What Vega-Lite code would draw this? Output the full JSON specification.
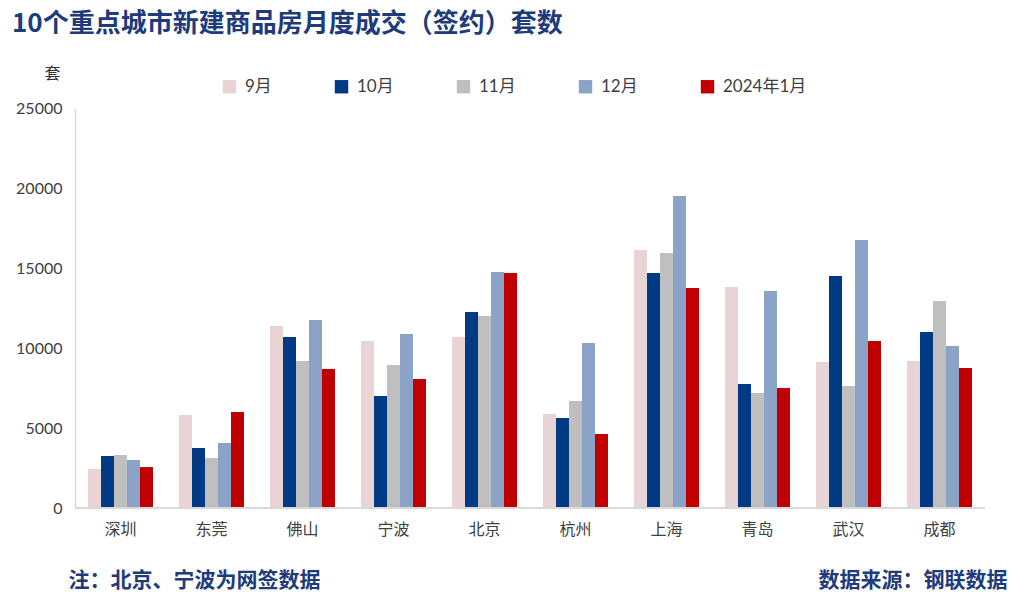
{
  "$schema": "https://vega.github.io/schema/vega-lite/v6.json",
  "width": 910,
  "height": 400,
  "autosize": {"type": "none"},
  "padding": {"left": 75, "top": 108, "right": 35, "bottom": 91},
  "background": "white",
  "title": {
    "text": "10个重点城市新建商品房月度成交（签约）套数",
    "anchor": "start",
    "frame": "group",
    "dx": -63,
    "offset": 28,
    "font": "Noto Sans CJK SC",
    "fontSize": 26,
    "fontWeight": "bold",
    "color": "#203b7c"
  },
  "config": {
    "view": {"stroke": null},
    "font": "Noto Sans CJK SC"
  },
  "data": {
    "values": [
      {"city": "深圳", "month": "9月", "value": 2440},
      {"city": "深圳", "month": "10月", "value": 3250},
      {"city": "深圳", "month": "11月", "value": 3310},
      {"city": "深圳", "month": "12月", "value": 3000},
      {"city": "深圳", "month": "2024年1月", "value": 2560},
      {"city": "东莞", "month": "9月", "value": 5810},
      {"city": "东莞", "month": "10月", "value": 3750},
      {"city": "东莞", "month": "11月", "value": 3120},
      {"city": "东莞", "month": "12月", "value": 4060},
      {"city": "东莞", "month": "2024年1月", "value": 6000},
      {"city": "佛山", "month": "9月", "value": 11375},
      {"city": "佛山", "month": "10月", "value": 10690},
      {"city": "佛山", "month": "11月", "value": 9190},
      {"city": "佛山", "month": "12月", "value": 11750},
      {"city": "佛山", "month": "2024年1月", "value": 8690},
      {"city": "宁波", "month": "9月", "value": 10440},
      {"city": "宁波", "month": "10月", "value": 7000},
      {"city": "宁波", "month": "11月", "value": 8940},
      {"city": "宁波", "month": "12月", "value": 10875},
      {"city": "宁波", "month": "2024年1月", "value": 8060},
      {"city": "北京", "month": "9月", "value": 10690},
      {"city": "北京", "month": "10月", "value": 12250},
      {"city": "北京", "month": "11月", "value": 12000},
      {"city": "北京", "month": "12月", "value": 14750},
      {"city": "北京", "month": "2024年1月", "value": 14690},
      {"city": "杭州", "month": "9月", "value": 5875},
      {"city": "杭州", "month": "10月", "value": 5625},
      {"city": "杭州", "month": "11月", "value": 6690},
      {"city": "杭州", "month": "12月", "value": 10310},
      {"city": "杭州", "month": "2024年1月", "value": 4625},
      {"city": "上海", "month": "9月", "value": 16125},
      {"city": "上海", "month": "10月", "value": 14690},
      {"city": "上海", "month": "11月", "value": 15940},
      {"city": "上海", "month": "12月", "value": 19500},
      {"city": "上海", "month": "2024年1月", "value": 13750},
      {"city": "青岛", "month": "9月", "value": 13810},
      {"city": "青岛", "month": "10月", "value": 7750},
      {"city": "青岛", "month": "11月", "value": 7190},
      {"city": "青岛", "month": "12月", "value": 13560},
      {"city": "青岛", "month": "2024年1月", "value": 7500},
      {"city": "武汉", "month": "9月", "value": 9125},
      {"city": "武汉", "month": "10月", "value": 14500},
      {"city": "武汉", "month": "11月", "value": 7625},
      {"city": "武汉", "month": "12月", "value": 16750},
      {"city": "武汉", "month": "2024年1月", "value": 10440},
      {"city": "成都", "month": "9月", "value": 9190},
      {"city": "成都", "month": "10月", "value": 11000},
      {"city": "成都", "month": "11月", "value": 12940},
      {"city": "成都", "month": "12月", "value": 10125},
      {"city": "成都", "month": "2024年1月", "value": 8750}
    ]
  },
  "layer": [
    {
      "mark": {"type": "bar"},
      "encoding": {
        "x": {
          "field": "city",
          "type": "nominal",
          "sort": null,
          "scale": {"paddingInner": 0.2857, "paddingOuter": 0.1429},
          "axis": {
            "title": "注：北京、宁波为网签数据",
            "titleAnchor": "start",
            "titleAlign": "left",
            "titleX": -7,
            "titleY": 72,
            "titleBaseline": "middle",
            "titleFont": "Noto Sans CJK SC",
            "titleFontSize": 21,
            "titleFontWeight": "bold",
            "titleColor": "#203b7c",
            "labelAngle": 0,
            "labelFont": "Noto Sans CJK SC",
            "labelFontSize": 16,
            "labelColor": "#404040",
            "labelPadding": 13,
            "ticks": false,
            "domain": false
          }
        },
        "xOffset": {
          "field": "month",
          "type": "nominal",
          "sort": ["9月", "10月", "11月", "12月", "2024年1月"],
          "scale": {"paddingInner": 0, "paddingOuter": 0}
        },
        "y": {
          "field": "value",
          "type": "quantitative",
          "scale": {"domain": [0, 25000], "nice": false},
          "axis": {
            "values": [0, 5000, 10000, 15000, 20000, 25000],
            "format": "d",
            "grid": false,
            "ticks": false,
            "labelPadding": 13,
            "labelFont": "Lato",
            "labelFontSize": 16,
            "labelColor": "#404040",
            "domainColor": "#d9d9d9",
            "domainWidth": 1.5,
            "title": "套",
            "titleAngle": 0,
            "titleX": -23,
            "titleY": -35,
            "titleAlign": "center",
            "titleBaseline": "middle",
            "titleFont": "Noto Sans CJK SC",
            "titleFontSize": 16,
            "titleFontWeight": "normal",
            "titleColor": "#333333"
          }
        },
        "color": {
          "field": "month",
          "type": "nominal",
          "scale": {
            "domain": ["9月", "10月", "11月", "12月", "2024年1月"],
            "range": ["#e8d4d4", "#003a85", "#bfbfbf", "#8aa3c7", "#c00000"]
          },
          "legend": {
            "title": null,
            "orient": "none",
            "direction": "horizontal",
            "legendX": 146,
            "legendY": -30,
            "symbolType": "square",
            "symbolSize": 180,
            "symbolStrokeWidth": 0,
            "labelFont": "Lato, Noto Sans CJK SC",
            "labelFontSize": 17,
            "labelColor": "#404040",
            "labelOffset": 7,
            "columnPadding": 61
          }
        }
      }
    },
    {
      "mark": {"type": "rule", "color": "#d9d9d9", "strokeWidth": 1.5},
      "encoding": {
        "y": {
          "datum": 0,
          "type": "quantitative",
          "axis": {
            "orient": "right",
            "labels": false,
            "ticks": false,
            "domain": false,
            "grid": false,
            "title": "数据来源：钢联数据",
            "titleAngle": 0,
            "titleX": 22,
            "titleY": 472,
            "titleAlign": "right",
            "titleBaseline": "middle",
            "titleFont": "Noto Sans CJK SC",
            "titleFontSize": 21,
            "titleFontWeight": "bold",
            "titleColor": "#203b7c"
          }
        }
      }
    }
  ],
  "resolve": {"axis": {"y": "independent"}}
}
